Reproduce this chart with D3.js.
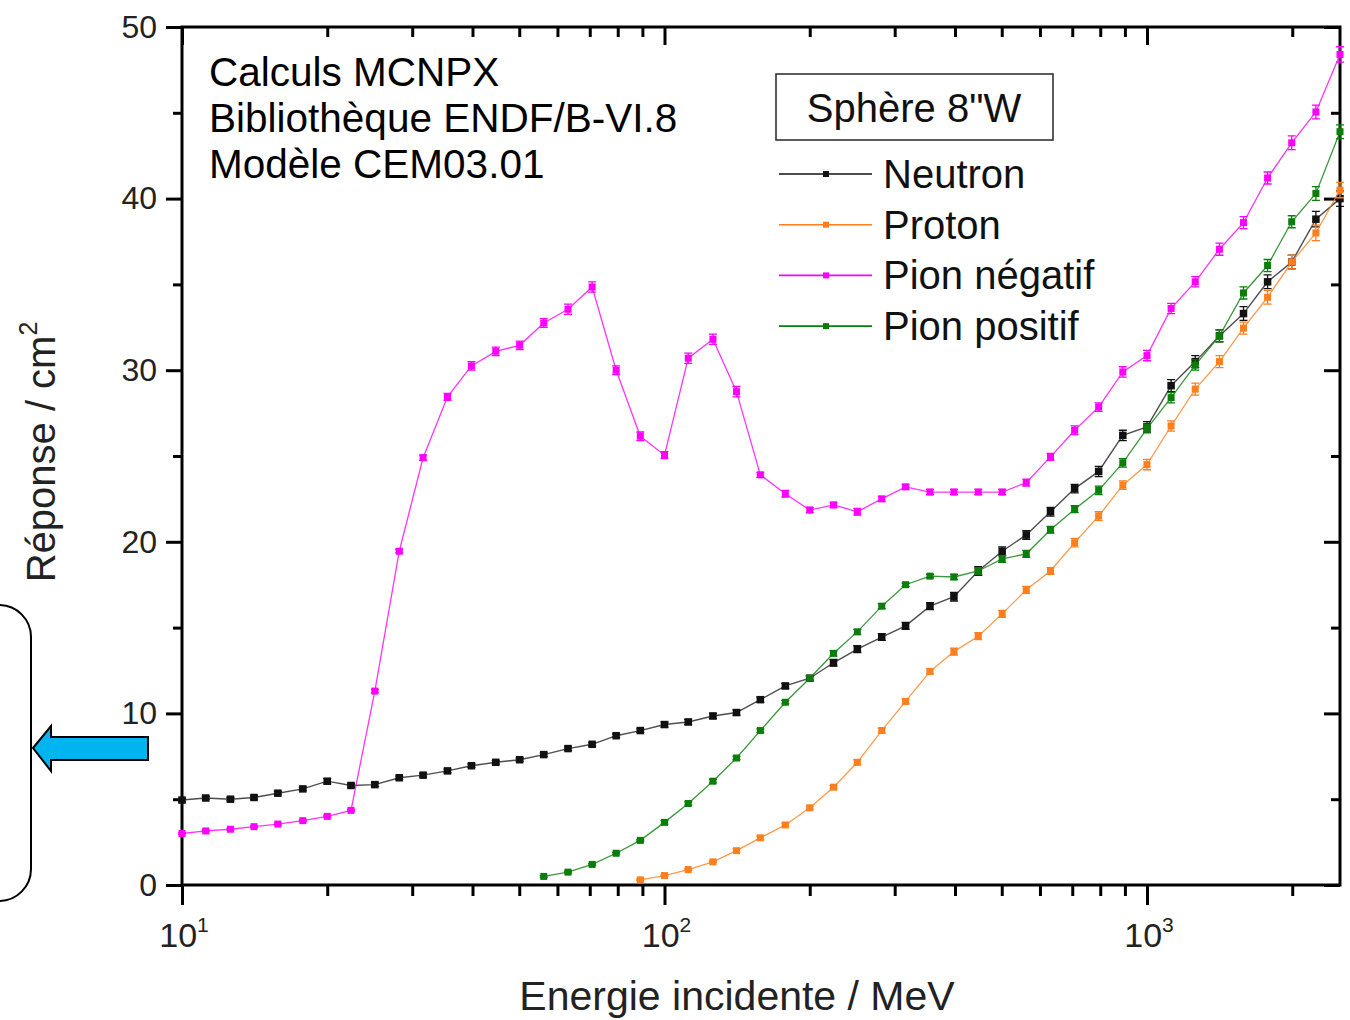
<!DOCTYPE html>
<html>
<head>
<meta charset="utf-8">
<script src="https://cdn.jsdelivr.net/npm/d3@7"></script>
<style>
  body { margin: 0; background: #fff; }
  svg { display: block; font-family: "Liberation Sans", Arial, sans-serif; }
</style>
</head>
<body>
<div id="chart"></div>
<script>
// --- Data ---
const energies = [10, 11.2, 12.6, 14.1, 15.8, 17.8, 20, 22.4, 25.1, 28.2, 31.6, 35.5, 39.8, 44.7,
  50.1, 56.2, 63.1, 70.8, 79.4, 89.1, 100, 112, 126, 141, 158, 178, 200, 224, 251, 282, 316, 355,
  398, 447, 501, 562, 631, 708, 794, 891, 1000, 1122, 1259, 1413, 1585, 1778, 1995, 2239, 2512];

// Neutron : 10 MeV -> 2512 MeV
const neutron = [4.95, 5.07, 5.0, 5.1, 5.35, 5.6, 6.05, 5.8, 5.85, 6.25, 6.4, 6.65, 6.95, 7.15,
  7.3, 7.6, 7.95, 8.2, 8.7, 9.0, 9.35, 9.5, 9.85, 10.05, 10.8, 11.6, 12.05, 12.95, 13.75, 14.45,
  15.1, 16.25, 16.8, 18.3, 19.45, 20.4, 21.75, 23.1, 24.1, 26.2, 26.7, 29.1, 30.5, 32.0, 33.3,
  35.15, 36.3, 38.8, 40.0];
const neutronErr = [0.1, 0.1, 0.1, 0.1, 0.1, 0.1, 0.15, 0.1, 0.1, 0.1, 0.1, 0.1, 0.1, 0.1,
  0.1, 0.1, 0.1, 0.1, 0.1, 0.1, 0.15, 0.15, 0.15, 0.15, 0.15, 0.15, 0.15, 0.2, 0.2, 0.2,
  0.2, 0.2, 0.25, 0.25, 0.25, 0.25, 0.25, 0.25, 0.3, 0.3, 0.3, 0.35, 0.35, 0.35, 0.4,
  0.4, 0.4, 0.45, 0.45];

// Proton : 89 MeV -> 2512 MeV
const proton = [0.3, 0.55, 0.9, 1.35, 2.0, 2.75, 3.5, 4.5, 5.7, 7.15, 9.0, 10.7, 12.45, 13.6,
  14.5, 15.8, 17.2, 18.3, 19.95, 21.5, 23.3, 24.5, 26.75, 28.9, 30.5, 32.45, 34.25, 36.3, 38.0, 40.5];
const protonErr = [0.05, 0.05, 0.05, 0.05, 0.1, 0.1, 0.1, 0.1, 0.1, 0.15, 0.15, 0.15, 0.15, 0.2,
  0.2, 0.2, 0.2, 0.2, 0.25, 0.25, 0.25, 0.3, 0.3, 0.35, 0.35, 0.35, 0.4, 0.4, 0.45, 0.45];

// Pion négatif : 10 MeV -> 2512 MeV
const pionNeg = [3.0, 3.15, 3.25, 3.4, 3.55, 3.75, 4.0, 4.35, 11.3, 19.45, 24.9, 28.45, 30.25,
  31.1, 31.45, 32.75, 33.55, 34.85, 30.0, 26.15, 25.05, 30.7, 31.8, 28.75, 23.9, 22.8, 21.85,
  22.15, 21.75, 22.5, 23.2, 22.9, 22.9, 22.9, 22.9, 23.45, 24.95, 26.5, 27.85, 29.9, 30.85,
  33.6, 35.15, 37.05, 38.6, 41.2, 43.25, 45.05, 48.4];
const pionNegErr = [0.05, 0.05, 0.05, 0.05, 0.05, 0.05, 0.05, 0.05, 0.1, 0.1, 0.15, 0.2, 0.25,
  0.25, 0.25, 0.25, 0.3, 0.3, 0.25, 0.25, 0.2, 0.3, 0.3, 0.3, 0.15, 0.2, 0.15, 0.15, 0.2, 0.15,
  0.15, 0.15, 0.15, 0.15, 0.15, 0.2, 0.2, 0.25, 0.25, 0.3, 0.3, 0.3, 0.3, 0.35, 0.35, 0.35,
  0.4, 0.4, 0.45];

// Pion positif : 56 MeV -> 2512 MeV
const pionPos = [0.5, 0.75, 1.2, 1.85, 2.6, 3.65, 4.75, 6.05, 7.4, 9.0, 10.65, 12.05, 13.5,
  14.75, 16.25, 17.5, 18.0, 17.95, 18.3, 19.0, 19.3, 20.7, 21.9, 23.0, 24.6, 26.6, 28.4, 30.3,
  32.0, 34.5, 36.1, 38.65, 40.3, 43.9];
const pionPosErr = [0.05, 0.05, 0.05, 0.05, 0.05, 0.1, 0.1, 0.1, 0.1, 0.1, 0.1, 0.1, 0.15,
  0.15, 0.15, 0.1, 0.1, 0.15, 0.2, 0.2, 0.2, 0.2, 0.2, 0.25, 0.25, 0.25, 0.3, 0.3, 0.35,
  0.35, 0.35, 0.35, 0.4, 0.4];

const seriesNames = ["Neutron", "Proton", "Pion négatif", "Pion positif"];
const seriesColors = ["#111111", "#ff7f1e", "#ff00ff", "#0a7d0a"];
const seriesValues = [neutron, proton, pionNeg, pionPos];
const seriesErrors = [neutronErr, protonErr, pionNegErr, pionPosErr];

const yTicks = [0, 10, 20, 30, 40, 50];
const xDecades = [10, 100, 1000];
const xDecadeExps = ["1", "2", "3"];
const infoLines = ["Calculs MCNPX", "Bibliothèque ENDF/B-VI.8", "Modèle CEM03.01"];
const legendTitle = "Sphère 8\"W";

// --- Layout ---
const W = 1350, H = 1020;
const PL = 182, PR = 1340, PT = 27, PB = 885;

const svg = d3.select("#chart").append("svg").attr("width", W).attr("height", H);

const x = d3.scaleLog().domain([10, 2512]).range([PL, PR]);
const y = d3.scaleLinear().domain([0, 50]).range([PB, PT]);

// minor tick values
const xMinor = [];
[10, 100, 1000].forEach(d => { for (let m = 2; m <= 9; m++) if (d * m <= 2512) xMinor.push(d * m); });
const yMinor = [5, 15, 25, 35, 45];

// --- Axes ---
const axisW = 3;
function styleAxis(g) {
  g.select(".domain").remove();
  g.selectAll("line").attr("stroke", "#000").attr("stroke-width", axisW);
}

// left
svg.append("g").attr("transform", `translate(${PL},0)`)
  .call(d3.axisLeft(y).tickValues(yTicks).tickSize(16).tickPadding(9).tickFormat(d3.format("d")))
  .call(styleAxis)
  .call(g => g.selectAll("text").attr("font-size", 32).attr("fill", "#222")
    .attr("font-family", "Liberation Sans, Arial, sans-serif"));
svg.append("g").attr("transform", `translate(${PL},0)`)
  .call(d3.axisLeft(y).tickValues(yMinor).tickSize(9).tickFormat(""))
  .call(styleAxis);
// right (inward)
svg.append("g").attr("transform", `translate(${PR},0)`)
  .call(d3.axisLeft(y).tickValues(yTicks).tickSize(16).tickFormat(""))
  .call(styleAxis);
svg.append("g").attr("transform", `translate(${PR},0)`)
  .call(d3.axisLeft(y).tickValues(yMinor).tickSize(9).tickFormat(""))
  .call(styleAxis);

// bottom (outward)
svg.append("g").attr("transform", `translate(0,${PB})`)
  .call(d3.axisBottom(x).tickValues(xDecades).tickSize(20).tickFormat(""))
  .call(styleAxis);
svg.append("g").attr("transform", `translate(0,${PB})`)
  .call(d3.axisBottom(x).tickValues(xMinor).tickSize(11).tickFormat(""))
  .call(styleAxis);
// top (inward)
svg.append("g").attr("transform", `translate(0,${PT})`)
  .call(d3.axisTop(x).tickValues(xDecades).tickSize(-18).tickFormat(""))
  .call(styleAxis);
svg.append("g").attr("transform", `translate(0,${PT})`)
  .call(d3.axisTop(x).tickValues(xMinor).tickSize(-10).tickFormat(""))
  .call(styleAxis);

// frame
svg.append("rect").attr("x", PL).attr("y", PT).attr("width", PR - PL).attr("height", PB - PT)
  .attr("fill", "none").attr("stroke", "#000").attr("stroke-width", axisW);

// x tick labels with superscript exponent
xDecades.forEach((d, i) => {
  const t = svg.append("text").attr("x", x(d) + 2).attr("y", 947)
    .attr("text-anchor", "middle").attr("font-size", 34).attr("fill", "#222");
  t.append("tspan").text("10");
  t.append("tspan").attr("font-size", 21).attr("dy", -15).text(xDecadeExps[i]);
});

// axis titles
svg.append("text").attr("x", 737).attr("y", 1010).attr("text-anchor", "middle")
  .attr("font-size", 41).attr("fill", "#222").text("Energie incidente / MeV");

const yTitle = svg.append("text")
  .attr("transform", "translate(55,452) rotate(-90)")
  .attr("text-anchor", "middle").attr("font-size", 40).attr("fill", "#222");
yTitle.append("tspan").text("Réponse / cm");
yTitle.append("tspan").attr("font-size", 25).attr("dy", -18).text("2");

// --- Series ---
const plot = svg.append("g");
const line = d3.line().x(d => x(d.e)).y(d => y(d.v));

seriesValues.forEach((vals, si) => {
  const offset = energies.length - vals.length;
  const pts = vals.map((v, i) => ({ e: energies[i + offset], v, err: seriesErrors[si][i] }));
  const color = seriesColors[si];
  const g = plot.append("g");
  g.append("path").datum(pts).attr("d", line).attr("fill", "none")
    .attr("stroke", color).attr("stroke-width", si === 0 ? 1.4 : 1.3)
    .attr("stroke-opacity", si === 0 ? 0.75 : 0.8);
  // error bars
  g.selectAll(".err").data(pts).join("path").attr("class", "err")
    .attr("d", d => {
      const cx = x(d.e), y1 = y(d.v + d.err), y2 = y(d.v - d.err);
      return `M${cx - 4},${y1}H${cx + 4}M${cx},${y1}V${y2}M${cx - 4},${y2}H${cx + 4}`;
    })
    .attr("stroke", color).attr("stroke-width", 1.3).attr("fill", "none");
  const s = si === 0 ? 7.5 : 7;
  g.selectAll(".mk").data(pts).join("rect").attr("class", "mk")
    .attr("x", d => x(d.e) - s / 2).attr("y", d => y(d.v) - s / 2)
    .attr("width", s).attr("height", s).attr("fill", color);
});

// --- Annotation text ---
infoLines.forEach((t, i) => {
  svg.append("text").attr("x", 209).attr("y", 86 + i * 46)
    .attr("font-size", 40.5).attr("fill", "#000").text(t);
});

// legend
svg.append("rect").attr("x", 776).attr("y", 74).attr("width", 277).attr("height", 66)
  .attr("fill", "#fff").attr("stroke", "#333").attr("stroke-width", 1.6);
svg.append("text").attr("x", 914).attr("y", 122).attr("text-anchor", "middle")
  .attr("font-size", 40).attr("fill", "#111").text(legendTitle);

seriesNames.forEach((name, i) => {
  const ly = 174 + i * 50.7;
  const lg = svg.append("g");
  lg.append("line").attr("x1", 779).attr("x2", 872).attr("y1", ly).attr("y2", ly)
    .attr("stroke", seriesColors[i]).attr("stroke-width", 1.6);
  lg.append("rect").attr("x", 823).attr("y", ly - 3).attr("width", 6).attr("height", 6)
    .attr("fill", seriesColors[i]);
  lg.append("text").attr("x", 883).attr("y", ly + 14).attr("font-size", 40)
    .attr("fill", "#111").text(name);
});

// --- Left bracket & arrow (slide annotation) ---
svg.append("rect").attr("x", -70).attr("y", 605).attr("width", 101).attr("height", 296)
  .attr("rx", 32).attr("fill", "none").attr("stroke", "#000").attr("stroke-width", 2);
svg.append("path")
  .attr("d", "M33,748 L51,726 L51,737 L148,737 L148,760 L51,760 L51,771 Z")
  .attr("fill", "#00b4f0").attr("stroke", "#000").attr("stroke-width", 2);
</script>
</body>
</html>
